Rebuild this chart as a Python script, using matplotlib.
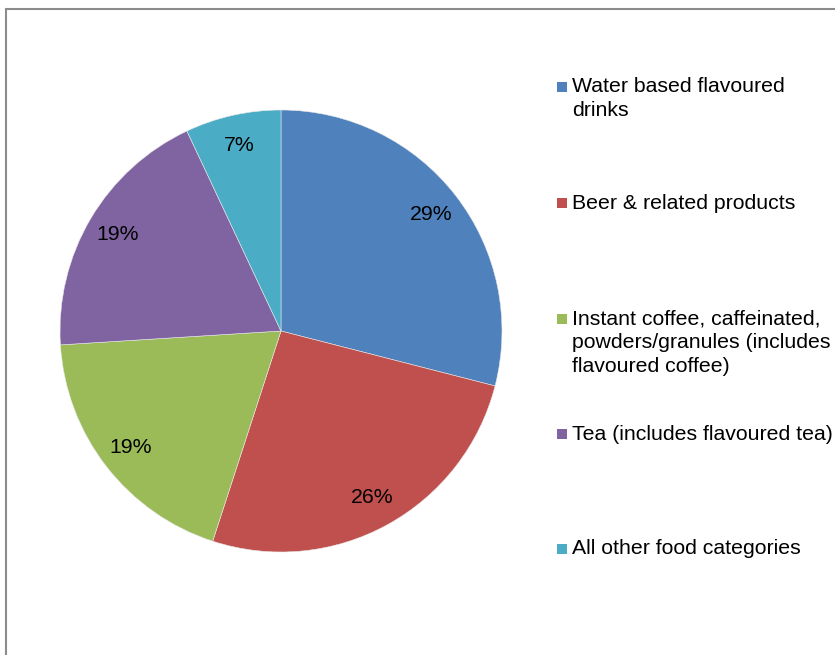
import matplotlib.pyplot as plt
from matplotlib.patches import Rectangle

plt.rcParams["font.family"] = ["Liberation Sans", "DejaVu Sans"]

categories = [
    "Water based flavoured\ndrinks",
    "Beer & related products",
    "Instant coffee, caffeinated,\npowders/granules (includes\nflavoured coffee)",
    "Tea (includes flavoured tea)",
    "All other food categories",
]
shares = [29, 26, 19, 19, 7]
colors = ["#4F81BD", "#C0504D", "#9BBB59", "#8064A2", "#4BACC6"]
# legend first-line centre, pixels from top
legend_rows = [87, 203, 319, 434, 549]

W, H = 835, 655
fig = plt.figure(figsize=(W / 100, H / 100), dpi=100)

# chart frame
fig.patches.append(Rectangle((5.5 / W, -0.01), 1.1, 1 - 9.5 / H + 0.01,
                             transform=fig.transFigure, fill=False,
                             edgecolor="#8c8c8c", linewidth=1.5))

cx, cy, r = 281, 331, 221
ax = fig.add_axes([(cx - r) / W, (H - cy - r) / H, 2 * r / W, 2 * r / H])
wedges, texts, autotexts = ax.pie(
    shares, colors=colors, startangle=90, counterclock=False,
    autopct="%1.0f%%", pctdistance=0.86, radius=1,
    wedgeprops={"linewidth": 0.4, "edgecolor": "#e8e8e8"},
    textprops={"fontsize": 15.3, "color": "black"},
)
ax.set_xlim(-1, 1)
ax.set_ylim(-1, 1)
ax.set_aspect("auto")
ax.axis("off")

# legend
line_h = 24
for label, col, yc in zip(categories, colors, legend_rows):
    fig.patches.append(Rectangle((557 / W, 1 - (yc + 5) / H), 10 / W, 10 / H,
                                 transform=fig.transFigure, facecolor=col,
                                 edgecolor="none"))
    for i, line in enumerate(label.split("\n")):
        fig.text(572 / W, 1 - (yc + i * line_h) / H, line, fontsize=15.3,
                 va="center", ha="left", color="black")

fig.savefig("out.png", dpi=100)
